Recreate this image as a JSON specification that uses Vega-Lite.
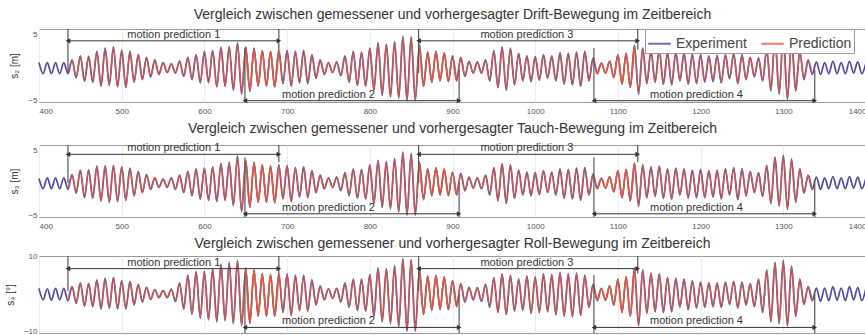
{
  "$schema": "https://vega.github.io/schema/vega-lite/v6.json",
  "background": "white",
  "padding": {"left": 4, "top": 7, "right": 0, "bottom": 0},
  "config": {
    "font": "Liberation Sans",
    "view": {"stroke": "#9a9a9a", "strokeWidth": 1},
    "axis": {"labelFontSize": 8, "labelColor": "#555", "ticks": false, "domain": false, "gridColor": "#ebebeb", "titleFontSize": 10, "titleFontWeight": "normal", "titleColor": "#333", "format": "d"},
    "axisX": {"grid": true, "labelPadding": 5},
    "axisY": {"grid": false, "labelPadding": 2, "titlePadding": 8},
    "title": {"fontSize": 14, "fontWeight": "normal", "color": "#333", "offset": 6},
    "concat": {"spacing": 5}
  },
  "datasets": {
    "win": [
      {"w": 1, "t0": 435, "t1": 690, "tm": 563, "pos": "top", "label": "motion prediction 1"},
      {"w": 2, "t0": 649, "t1": 908, "tm": 750, "pos": "bottom", "label": "motion prediction 2"},
      {"w": 3, "t0": 859, "t1": 1124, "tm": 990, "pos": "top", "label": "motion prediction 3"},
      {"w": 4, "t0": 1071, "t1": 1338, "tm": 1195, "pos": "bottom", "label": "motion prediction 4"}
    ],
    "ts": [
      {"t":400,"a":0.8,"c":0.7,"e":1.5},
      {"t":405,"a":-0.9,"c":-0.9,"e":-1.6},
      {"t":410,"a":0.8,"c":0.8,"e":1.4},
      {"t":415,"a":-0.9,"c":-0.9,"e":-1.7},
      {"t":420,"a":0.8,"c":0.8,"e":1.5},
      {"t":425,"a":-0.9,"c":-0.9,"e":-1.6},
      {"t":430,"a":0.8,"c":0.8,"e":1.5},
      {"t":435,"a":-0.9,"b":-0.8,"c":-1.0,"d":-0.9,"e":-1.8,"f":-1.6},
      {"t":440,"a":1.2,"b":1.1,"c":1.3,"d":1.2,"e":2.0,"f":1.9},
      {"t":445,"a":-1.5,"b":-1.4,"c":-1.6,"d":-1.5,"e":-2.5,"f":-2.3},
      {"t":450,"a":1.8,"b":1.7,"c":2.0,"d":1.9,"e":3.0,"f":2.8},
      {"t":455,"a":-2.0,"b":-2.1,"c":-2.3,"d":-2.2,"e":-3.2,"f":-3.3},
      {"t":460,"a":1.7,"b":1.8,"c":2.0,"d":2.1,"e":2.8,"f":2.9},
      {"t":465,"a":-2.2,"b":-2.0,"c":-2.4,"d":-2.3,"e":-3.4,"f":-3.2},
      {"t":470,"a":2.5,"b":2.4,"c":2.6,"d":2.5,"e":3.8,"f":3.6},
      {"t":475,"a":-2.8,"b":-2.6,"c":-2.8,"d":-2.7,"e":-4.0,"f":-3.8},
      {"t":480,"a":3.0,"b":2.9,"c":2.6,"d":2.7,"e":4.2,"f":4.0},
      {"t":485,"a":-2.6,"b":-2.7,"c":-3.0,"d":-2.8,"e":-3.8,"f":-3.9},
      {"t":490,"a":3.2,"b":3.0,"c":2.7,"d":2.6,"e":4.4,"f":4.2},
      {"t":495,"a":-2.9,"b":-2.8,"c":-2.9,"d":-2.8,"e":-4.0,"f":-3.9},
      {"t":500,"a":2.7,"b":2.6,"c":2.5,"d":2.4,"e":3.6,"f":3.5},
      {"t":505,"a":-3.0,"b":-2.9,"c":-2.7,"d":-2.6,"e":-4.0,"f":-3.8},
      {"t":510,"a":2.5,"b":2.4,"c":2.3,"d":2.2,"e":3.4,"f":3.3},
      {"t":515,"a":-2.2,"b":-2.1,"c":-2.0,"d":-2.0,"e":-3.0,"f":-2.9},
      {"t":520,"a":2.0,"b":1.9,"c":1.8,"d":1.7,"e":2.6,"f":2.5},
      {"t":525,"a":-1.8,"b":-1.7,"c":-1.5,"d":-1.5,"e":-2.2,"f":-2.1},
      {"t":530,"a":1.6,"b":1.5,"c":1.3,"d":1.3,"e":1.8,"f":1.7},
      {"t":535,"a":-1.4,"b":-1.3,"c":-1.0,"d":-1.0,"e":-1.5,"f":-1.4},
      {"t":540,"a":1.2,"b":1.1,"c":0.8,"d":0.8,"e":1.2,"f":1.2},
      {"t":545,"a":-1.0,"b":-0.9,"c":-0.7,"d":-0.7,"e":-1.0,"f":-1.0},
      {"t":550,"a":0.8,"b":0.8,"c":0.6,"d":0.6,"e":0.9,"f":0.9},
      {"t":555,"a":-0.7,"b":-0.7,"c":-0.7,"d":-0.6,"e":-1.0,"f":-0.9},
      {"t":560,"a":0.6,"b":0.6,"c":0.8,"d":0.7,"e":1.3,"f":1.2},
      {"t":565,"a":-0.8,"b":-0.7,"c":-1.0,"d":-0.9,"e":-2.0,"f":-1.8},
      {"t":570,"a":1.0,"b":0.9,"c":1.2,"d":1.1,"e":3.0,"f":2.8},
      {"t":575,"a":-1.3,"b":-1.2,"c":-1.5,"d":-1.4,"e":-4.0,"f":-3.8},
      {"t":580,"a":1.6,"b":1.5,"c":1.8,"d":1.7,"e":5.0,"f":4.8},
      {"t":585,"a":-1.8,"b":-1.7,"c":-2.0,"d":-1.9,"e":-5.5,"f":-5.2},
      {"t":590,"a":2.0,"b":1.9,"c":2.2,"d":2.1,"e":6.0,"f":5.8},
      {"t":595,"a":-2.3,"b":-2.2,"c":-2.5,"d":-2.4,"e":-6.5,"f":-6.2},
      {"t":600,"a":2.5,"b":2.4,"c":2.3,"d":2.2,"e":6.0,"f":5.9},
      {"t":605,"a":-2.2,"b":-2.3,"c":-2.7,"d":-2.6,"e":-7.0,"f":-6.8},
      {"t":610,"a":2.6,"b":2.5,"c":2.5,"d":2.4,"e":6.8,"f":6.6},
      {"t":615,"a":-2.9,"b":-2.8,"c":-2.9,"d":-2.8,"e":-7.5,"f":-7.2},
      {"t":620,"a":3.1,"b":3.0,"c":3.0,"d":2.9,"e":8.0,"f":7.8},
      {"t":625,"a":-2.8,"b":-2.7,"c":-2.7,"d":-2.6,"e":-7.2,"f":-7.0},
      {"t":630,"a":3.2,"b":3.1,"c":3.2,"d":3.0,"e":8.5,"f":8.2},
      {"t":635,"a":-3.4,"b":-3.3,"c":-3.5,"d":-3.4,"e":-8.0,"f":-7.8},
      {"t":640,"a":3.8,"b":3.6,"c":4.2,"d":4.0,"e":9.0,"f":8.7},
      {"t":645,"a":-4.0,"b":-3.8,"c":-4.5,"d":-4.3,"e":-8.5,"f":-8.2},
      {"t":650,"a":3.2,"b":3.1,"c":3.5,"d":3.4,"e":7.0,"f":6.8},
      {"t":655,"a":-3.6,"b":-3.4,"c":-3.8,"d":-3.6,"e":-8.0,"f":-7.7},
      {"t":660,"a":3.0,"b":2.9,"c":3.2,"d":3.1,"e":6.5,"f":6.3},
      {"t":665,"a":-2.8,"b":-2.7,"c":-3.0,"d":-2.9,"e":-6.0,"f":-5.8},
      {"t":670,"a":2.6,"b":2.5,"c":2.8,"d":2.7,"e":5.5,"f":5.3},
      {"t":675,"a":-2.8,"b":-2.7,"c":-3.0,"d":-2.9,"e":-6.0,"f":-5.8},
      {"t":680,"a":2.5,"b":2.4,"c":2.6,"d":2.5,"e":5.2,"f":5.0},
      {"t":685,"a":-2.9,"b":-2.8,"c":-3.1,"d":-3.0,"e":-6.0,"f":-5.9},
      {"t":690,"a":2.7,"b":2.6,"c":2.8,"d":2.7,"e":5.5,"f":5.3},
      {"t":695,"a":-2.4,"b":-2.3,"c":-2.5,"d":-2.4,"e":-5.0,"f":-4.8},
      {"t":700,"a":2.6,"b":2.5,"c":2.7,"d":2.6,"e":5.4,"f":5.2},
      {"t":705,"a":-2.8,"b":-2.7,"c":-2.9,"d":-2.8,"e":-5.8,"f":-5.6},
      {"t":710,"a":2.5,"b":2.4,"c":2.4,"d":2.3,"e":5.0,"f":4.9},
      {"t":715,"a":-2.3,"b":-2.2,"c":-2.2,"d":-2.1,"e":-4.5,"f":-4.4},
      {"t":720,"a":2.6,"b":2.5,"c":2.5,"d":2.4,"e":5.0,"f":4.8},
      {"t":725,"a":-2.4,"b":-2.3,"c":-2.3,"d":-2.2,"e":-4.6,"f":-4.5},
      {"t":730,"a":2.0,"b":1.9,"c":1.9,"d":1.8,"e":3.8,"f":3.7},
      {"t":735,"a":-1.6,"b":-1.5,"c":-1.5,"d":-1.4,"e":-3.0,"f":-2.9},
      {"t":740,"a":1.2,"b":1.1,"c":1.2,"d":1.1,"e":2.2,"f":2.1},
      {"t":745,"a":-1.0,"b":-0.9,"c":-0.9,"d":-0.9,"e":-1.6,"f":-1.5},
      {"t":750,"a":0.8,"b":0.8,"c":0.8,"d":0.8,"e":1.4,"f":1.3},
      {"t":755,"a":-0.7,"b":-0.7,"c":-0.7,"d":-0.7,"e":-1.2,"f":-1.2},
      {"t":760,"a":0.9,"b":0.8,"c":0.9,"d":0.8,"e":1.5,"f":1.4},
      {"t":765,"a":-1.2,"b":-1.1,"c":-1.2,"d":-1.1,"e":-2.2,"f":-2.0},
      {"t":770,"a":1.8,"b":1.7,"c":1.6,"d":1.5,"e":3.0,"f":2.9},
      {"t":775,"a":-2.2,"b":-2.1,"c":-2.0,"d":-1.9,"e":-3.6,"f":-3.5},
      {"t":780,"a":2.5,"b":2.4,"c":2.2,"d":2.1,"e":4.0,"f":3.9},
      {"t":785,"a":-2.7,"b":-2.6,"c":-2.4,"d":-2.3,"e":-4.4,"f":-4.2},
      {"t":790,"a":2.4,"b":2.3,"c":2.1,"d":2.0,"e":4.0,"f":3.9},
      {"t":795,"a":-2.8,"b":-2.7,"c":-2.5,"d":-2.4,"e":-4.6,"f":-4.4},
      {"t":800,"a":3.0,"b":2.9,"c":2.8,"d":2.7,"e":5.2,"f":5.0},
      {"t":805,"a":-3.4,"b":-3.2,"c":-3.2,"d":-3.1,"e":-6.0,"f":-5.8},
      {"t":810,"a":3.8,"b":3.6,"c":3.5,"d":3.4,"e":7.0,"f":6.8},
      {"t":815,"a":-4.2,"b":-4.0,"c":-3.8,"d":-3.6,"e":-7.5,"f":-7.2},
      {"t":820,"a":3.6,"b":3.5,"c":3.3,"d":3.2,"e":6.8,"f":6.6},
      {"t":825,"a":-4.4,"b":-4.2,"c":-4.0,"d":-3.8,"e":-8.0,"f":-7.7},
      {"t":830,"a":4.0,"b":3.8,"c":3.8,"d":3.6,"e":7.6,"f":7.3},
      {"t":835,"a":-4.6,"b":-4.4,"c":-4.5,"d":-4.3,"e":-8.8,"f":-8.5},
      {"t":840,"a":4.8,"b":4.6,"c":4.8,"d":4.6,"e":9.5,"f":9.2},
      {"t":845,"a":-5.0,"b":-4.8,"c":-5.0,"d":-4.8,"e":-10.0,"f":-9.6},
      {"t":850,"a":4.7,"b":4.5,"c":4.6,"d":4.4,"e":9.2,"f":8.9},
      {"t":855,"a":-5.0,"b":-4.8,"c":-5.0,"d":-4.8,"e":-10.0,"f":-9.7},
      {"t":860,"a":3.5,"b":3.4,"c":3.2,"d":3.1,"e":6.5,"f":6.3},
      {"t":865,"a":-2.8,"b":-2.7,"c":-2.6,"d":-2.5,"e":-5.5,"f":-5.3},
      {"t":870,"a":2.4,"b":2.3,"c":2.2,"d":2.1,"e":4.8,"f":4.6},
      {"t":875,"a":-2.2,"b":-2.1,"c":-2.0,"d":-1.9,"e":-4.4,"f":-4.2},
      {"t":880,"a":2.5,"b":2.4,"c":2.4,"d":2.3,"e":5.0,"f":4.8},
      {"t":885,"a":-2.0,"b":-1.9,"c":-1.9,"d":-1.8,"e":-4.2,"f":-4.0},
      {"t":890,"a":2.3,"b":2.2,"c":2.2,"d":2.1,"e":4.6,"f":4.4},
      {"t":895,"a":-2.1,"b":-2.0,"c":-2.0,"d":-1.9,"e":-4.2,"f":-4.1},
      {"t":900,"a":1.8,"b":1.7,"c":1.7,"d":1.6,"e":3.6,"f":3.5},
      {"t":905,"a":-2.0,"b":-1.9,"c":-1.9,"d":-1.8,"e":-3.4,"f":-3.3},
      {"t":910,"a":1.6,"b":1.5,"c":1.5,"d":1.4,"e":2.8,"f":2.7},
      {"t":915,"a":-1.3,"b":-1.2,"c":-1.2,"d":-1.2,"e":-2.2,"f":-2.1},
      {"t":920,"a":1.0,"b":1.0,"c":0.9,"d":0.9,"e":1.8,"f":1.7},
      {"t":925,"a":-0.8,"b":-0.8,"c":-0.8,"d":-0.8,"e":-1.6,"f":-1.5},
      {"t":930,"a":0.9,"b":0.8,"c":0.8,"d":0.8,"e":1.7,"f":1.6},
      {"t":935,"a":-0.8,"b":-0.8,"c":-0.9,"d":-0.8,"e":-2.0,"f":-1.9},
      {"t":940,"a":1.2,"b":1.1,"c":1.2,"d":1.1,"e":2.6,"f":2.5},
      {"t":945,"a":-2.0,"b":-1.9,"c":-1.9,"d":-1.8,"e":-3.6,"f":-3.5},
      {"t":950,"a":2.6,"b":2.5,"c":2.4,"d":2.3,"e":4.4,"f":4.2},
      {"t":955,"a":-3.0,"b":-2.9,"c":-2.8,"d":-2.7,"e":-5.0,"f":-4.8},
      {"t":960,"a":3.2,"b":3.0,"c":3.0,"d":2.9,"e":5.4,"f":5.2},
      {"t":965,"a":-3.4,"b":-3.2,"c":-3.2,"d":-3.1,"e":-5.6,"f":-5.4},
      {"t":970,"a":3.0,"b":2.9,"c":2.8,"d":2.7,"e":5.0,"f":4.9},
      {"t":975,"a":-2.6,"b":-2.5,"c":-2.4,"d":-2.3,"e":-4.6,"f":-4.5},
      {"t":980,"a":2.2,"b":2.1,"c":2.0,"d":1.9,"e":4.0,"f":3.9},
      {"t":985,"a":-2.0,"b":-1.9,"c":-1.9,"d":-1.8,"e":-4.4,"f":-4.2},
      {"t":990,"a":1.8,"b":1.7,"c":1.7,"d":1.6,"e":4.8,"f":4.6},
      {"t":995,"a":-2.1,"b":-2.0,"c":-2.0,"d":-1.9,"e":-5.2,"f":-5.0},
      {"t":1000,"a":1.7,"b":1.6,"c":1.6,"d":1.5,"e":4.6,"f":4.4},
      {"t":1005,"a":-1.9,"b":-1.8,"c":-1.8,"d":-1.7,"e":-5.0,"f":-4.8},
      {"t":1010,"a":2.0,"b":1.9,"c":1.9,"d":1.8,"e":5.4,"f":5.2},
      {"t":1015,"a":-1.6,"b":-1.5,"c":-1.5,"d":-1.4,"e":-4.8,"f":-4.6},
      {"t":1020,"a":1.8,"b":1.7,"c":1.7,"d":1.6,"e":5.2,"f":5.0},
      {"t":1025,"a":-2.0,"b":-1.9,"c":-1.9,"d":-1.8,"e":-5.6,"f":-5.4},
      {"t":1030,"a":2.3,"b":2.2,"c":2.2,"d":2.1,"e":5.8,"f":5.6},
      {"t":1035,"a":-2.5,"b":-2.4,"c":-2.4,"d":-2.3,"e":-6.0,"f":-5.8},
      {"t":1040,"a":2.2,"b":2.1,"c":2.1,"d":2.0,"e":5.4,"f":5.2},
      {"t":1045,"a":-2.6,"b":-2.5,"c":-2.5,"d":-2.4,"e":-6.2,"f":-6.0},
      {"t":1050,"a":2.4,"b":2.3,"c":2.3,"d":2.2,"e":5.6,"f":5.4},
      {"t":1055,"a":-2.8,"b":-2.7,"c":-2.7,"d":-2.6,"e":-5.8,"f":-5.6},
      {"t":1060,"a":2.5,"b":2.4,"c":2.4,"d":2.3,"e":5.0,"f":4.9},
      {"t":1065,"a":-2.0,"b":-1.9,"c":-1.9,"d":-1.8,"e":-3.6,"f":-3.5},
      {"t":1070,"a":1.5,"b":1.4,"c":1.4,"d":1.3,"e":2.6,"f":2.5},
      {"t":1075,"a":-0.9,"b":-0.9,"c":-0.9,"d":-0.9,"e":-1.8,"f":-1.7},
      {"t":1080,"a":0.7,"b":0.7,"c":0.7,"d":0.7,"e":1.5,"f":1.4},
      {"t":1085,"a":-0.8,"b":-0.8,"c":-0.8,"d":-0.8,"e":-1.7,"f":-1.6},
      {"t":1090,"a":1.0,"b":0.9,"c":1.0,"d":0.9,"e":2.2,"f":2.1},
      {"t":1095,"a":-1.5,"b":-1.4,"c":-1.4,"d":-1.3,"e":-3.0,"f":-2.9},
      {"t":1100,"a":2.0,"b":1.9,"c":1.9,"d":1.8,"e":4.0,"f":3.9},
      {"t":1105,"a":-2.5,"b":-2.4,"c":-2.3,"d":-2.2,"e":-5.0,"f":-4.8},
      {"t":1110,"a":2.2,"b":2.1,"c":2.1,"d":2.0,"e":4.6,"f":4.5},
      {"t":1115,"a":-3.0,"b":-2.9,"c":-2.8,"d":-2.7,"e":-6.0,"f":-5.8},
      {"t":1120,"a":3.4,"b":3.2,"c":3.1,"d":3.0,"e":7.0,"f":6.8},
      {"t":1125,"a":-4.0,"b":-3.8,"c":-3.6,"d":-3.4,"e":-8.5,"f":-8.2},
      {"t":1130,"a":3.0,"b":2.9,"c":2.8,"d":2.7,"e":6.5,"f":6.3},
      {"t":1135,"a":-2.4,"b":-2.3,"c":-2.3,"d":-2.2,"e":-5.2,"f":-5.0},
      {"t":1140,"a":2.6,"b":2.5,"c":2.5,"d":2.4,"e":5.6,"f":5.4},
      {"t":1145,"a":-2.2,"b":-2.1,"c":-2.1,"d":-2.0,"e":-4.8,"f":-4.6},
      {"t":1150,"a":2.8,"b":2.7,"c":2.6,"d":2.5,"e":5.4,"f":5.2},
      {"t":1155,"a":-2.5,"b":-2.4,"c":-2.4,"d":-2.3,"e":-5.0,"f":-4.8},
      {"t":1160,"a":2.3,"b":2.2,"c":2.2,"d":2.1,"e":4.4,"f":4.3},
      {"t":1165,"a":-2.6,"b":-2.5,"c":-2.5,"d":-2.4,"e":-4.8,"f":-4.6},
      {"t":1170,"a":2.4,"b":2.3,"c":2.3,"d":2.2,"e":4.2,"f":4.1},
      {"t":1175,"a":-2.0,"b":-1.9,"c":-1.9,"d":-1.8,"e":-3.6,"f":-3.5},
      {"t":1180,"a":2.3,"b":2.2,"c":2.2,"d":2.1,"e":4.0,"f":3.9},
      {"t":1185,"a":-2.5,"b":-2.4,"c":-2.4,"d":-2.3,"e":-4.2,"f":-4.1},
      {"t":1190,"a":2.1,"b":2.0,"c":2.0,"d":1.9,"e":3.6,"f":3.5},
      {"t":1195,"a":-2.4,"b":-2.3,"c":-2.3,"d":-2.2,"e":-3.8,"f":-3.7},
      {"t":1200,"a":2.0,"b":1.9,"c":2.1,"d":2.0,"e":3.2,"f":3.1},
      {"t":1205,"a":-2.2,"b":-2.1,"c":-2.3,"d":-2.2,"e":-3.6,"f":-3.5},
      {"t":1210,"a":1.8,"b":1.7,"c":1.9,"d":1.8,"e":3.0,"f":2.9},
      {"t":1215,"a":-2.1,"b":-2.0,"c":-2.2,"d":-2.1,"e":-3.4,"f":-3.3},
      {"t":1220,"a":1.9,"b":1.8,"c":2.0,"d":1.9,"e":3.0,"f":2.9},
      {"t":1225,"a":-2.3,"b":-2.2,"c":-2.5,"d":-2.4,"e":-3.6,"f":-3.5},
      {"t":1230,"a":2.0,"b":1.9,"c":2.2,"d":2.1,"e":3.2,"f":3.1},
      {"t":1235,"a":-1.7,"b":-1.6,"c":-1.9,"d":-1.8,"e":-2.8,"f":-2.7},
      {"t":1240,"a":2.2,"b":2.1,"c":2.4,"d":2.3,"e":3.4,"f":3.3},
      {"t":1245,"a":-2.4,"b":-2.3,"c":-2.6,"d":-2.5,"e":-3.8,"f":-3.7},
      {"t":1250,"a":2.0,"b":1.9,"c":2.2,"d":2.1,"e":3.2,"f":3.1},
      {"t":1255,"a":-1.8,"b":-1.7,"c":-2.0,"d":-1.9,"e":-3.0,"f":-2.9},
      {"t":1260,"a":1.6,"b":1.5,"c":1.8,"d":1.7,"e":2.8,"f":2.7},
      {"t":1265,"a":-1.4,"b":-1.3,"c":-1.5,"d":-1.4,"e":-3.4,"f":-3.3},
      {"t":1270,"a":1.5,"b":1.4,"c":1.6,"d":1.5,"e":4.0,"f":3.9},
      {"t":1275,"a":-2.0,"b":-1.9,"c":-2.1,"d":-2.0,"e":-5.0,"f":-4.8},
      {"t":1280,"a":2.8,"b":2.7,"c":2.7,"d":2.6,"e":6.5,"f":6.3},
      {"t":1285,"a":-3.5,"b":-3.3,"c":-3.2,"d":-3.1,"e":-7.5,"f":-7.2},
      {"t":1290,"a":4.5,"b":4.3,"c":4.0,"d":3.8,"e":8.5,"f":8.2},
      {"t":1295,"a":-4.0,"b":-3.8,"c":-3.6,"d":-3.5,"e":-8.0,"f":-7.7},
      {"t":1300,"a":5.0,"b":4.7,"c":4.3,"d":4.1,"e":9.0,"f":8.6},
      {"t":1305,"a":-4.8,"b":-4.6,"c":-4.1,"d":-3.9,"e":-8.6,"f":-8.3},
      {"t":1310,"a":4.2,"b":4.0,"c":3.7,"d":3.5,"e":7.5,"f":7.2},
      {"t":1315,"a":-3.5,"b":-3.3,"c":-3.0,"d":-2.9,"e":-6.0,"f":-5.8},
      {"t":1320,"a":2.5,"b":2.4,"c":2.2,"d":2.1,"e":4.0,"f":3.9},
      {"t":1325,"a":-1.8,"b":-1.7,"c":-1.6,"d":-1.5,"e":-2.8,"f":-2.7},
      {"t":1330,"a":1.2,"b":1.1,"c":1.2,"d":1.1,"e":2.0,"f":1.9},
      {"t":1335,"a":-1.0,"b":-1.0,"c":-1.0,"d":-1.0,"e":-1.8,"f":-1.7},
      {"t":1340,"a":0.9,"c":0.9,"e":1.6},
      {"t":1345,"a":-1.0,"c":-1.0,"e":-2.0},
      {"t":1350,"a":0.8,"c":0.8,"e":1.6},
      {"t":1355,"a":-0.9,"c":-0.9,"e":-1.8},
      {"t":1360,"a":1.0,"c":1.0,"e":2.0},
      {"t":1365,"a":-0.9,"c":-0.9,"e":-1.7},
      {"t":1370,"a":0.8,"c":0.8,"e":1.6},
      {"t":1375,"a":-0.9,"c":-0.9,"e":-1.8},
      {"t":1380,"a":1.0,"c":1.0,"e":2.0},
      {"t":1385,"a":-0.8,"c":-0.8,"e":-1.6},
      {"t":1390,"a":0.9,"c":0.9,"e":1.7},
      {"t":1395,"a":-0.9,"c":-0.9,"e":-1.8},
      {"t":1400,"a":0.8,"c":0.8,"e":1.6}
    ]
  },
  "resolve": {"scale": {"x": "independent", "y": "independent", "color": "independent"}, "legend": {"color": "independent"}},
  "vconcat": [
    {
      "title": "Vergleich zwischen gemessener und vorhergesagter Drift-Bewegung im Zeitbereich",
      "width": 827, "height": 73,
      "layer": [
        {"data": {"name": "ts"}, "mark": {"type": "line", "interpolate": "monotone", "strokeWidth": 1.7},
         "encoding": {
           "x": {"field": "t", "type": "quantitative", "scale": {"domain": [400, 1400], "nice": false}, "axis": {"values": [400,500,600,700,800,900,1000,1100,1200,1300,1400], "title": null}},
           "y": {"field": "a", "type": "quantitative", "scale": {"domain": [-5.2, 5.9], "nice": false, "zero": false}, "axis": {"values": [-5, 0, 5], "title": "s₂ [m]"}},
           "color": {"datum": "Experiment", "type": "nominal", "scale": {"domain": ["Experiment", "Prediction"], "range": ["#4b4b9e", "#e65a3a"]},
             "legend": {"title": null, "orient": "none", "legendX": 606, "legendY": 0, "direction": "horizontal", "fillColor": "white", "strokeColor": "#9a9a9a", "padding": 2, "labelFontSize": 14, "labelColor": "#444", "symbolType": "stroke", "symbolSize": 500, "symbolStrokeWidth": 2, "columnPadding": 10}}
         }},
        {"data": {"name": "ts"}, "transform": [{"filter": {"field": "t", "range": [435, 690]}}], "mark": {"type": "line", "interpolate": "monotone", "strokeWidth": 1.5, "opacity": 0.8},
         "encoding": {"x": {"field": "t", "type": "quantitative"}, "y": {"field": "b", "type": "quantitative"}, "color": {"datum": "Prediction", "type": "nominal"}}},
        {"data": {"name": "ts"}, "transform": [{"filter": {"field": "t", "range": [649, 908]}}], "mark": {"type": "line", "interpolate": "monotone", "strokeWidth": 1.5, "opacity": 0.8},
         "encoding": {"x": {"field": "t", "type": "quantitative"}, "y": {"field": "b", "type": "quantitative"}, "color": {"datum": "Prediction", "type": "nominal"}}},
        {"data": {"name": "ts"}, "transform": [{"filter": {"field": "t", "range": [859, 1124]}}], "mark": {"type": "line", "interpolate": "monotone", "strokeWidth": 1.5, "opacity": 0.8},
         "encoding": {"x": {"field": "t", "type": "quantitative"}, "y": {"field": "b", "type": "quantitative"}, "color": {"datum": "Prediction", "type": "nominal"}}},
        {"data": {"name": "ts"}, "transform": [{"filter": {"field": "t", "range": [1071, 1338]}}], "mark": {"type": "line", "interpolate": "monotone", "strokeWidth": 1.5, "opacity": 0.8},
         "encoding": {"x": {"field": "t", "type": "quantitative"}, "y": {"field": "b", "type": "quantitative"}, "color": {"datum": "Prediction", "type": "nominal"}}},
        {"data": {"name": "win"}, "transform": [{"filter": "datum.pos == 'top'"}], "mark": {"type": "rule", "color": "#555", "strokeWidth": 1.2},
         "encoding": {"x": {"field": "t0", "type": "quantitative"}, "y": {"datum": 5.9}, "y2": {"datum": -0.8}}},
        {"data": {"name": "win"}, "transform": [{"filter": "datum.pos == 'top'"}], "mark": {"type": "rule", "color": "#555", "strokeWidth": 1.2},
         "encoding": {"x": {"field": "t1", "type": "quantitative"}, "y": {"datum": 5.9}, "y2": {"datum": 2.8}}},
        {"data": {"name": "win"}, "transform": [{"filter": "datum.pos == 'bottom'"}], "mark": {"type": "rule", "color": "#555", "strokeWidth": 1.2},
         "encoding": {"x": {"field": "t0", "type": "quantitative"}, "y": {"datum": 3.0}, "y2": {"datum": -5.2}}},
        {"data": {"name": "win"}, "transform": [{"filter": "datum.pos == 'bottom'"}], "mark": {"type": "rule", "color": "#555", "strokeWidth": 1.2},
         "encoding": {"x": {"field": "t1", "type": "quantitative"}, "y": {"datum": -0.3}, "y2": {"datum": -5.2}}},
        {"data": {"name": "win"}, "transform": [{"filter": "datum.pos == 'top'"}], "mark": {"type": "rule", "color": "#333", "strokeWidth": 1},
         "encoding": {"x": {"field": "t0", "type": "quantitative"}, "x2": {"field": "t1"}, "y": {"datum": 4.1}}},
        {"data": {"name": "win"}, "transform": [{"filter": "datum.pos == 'bottom'"}], "mark": {"type": "rule", "color": "#333", "strokeWidth": 1},
         "encoding": {"x": {"field": "t0", "type": "quantitative"}, "x2": {"field": "t1"}, "y": {"datum": -5.0}}},
        {"data": {"name": "win"}, "transform": [{"filter": "datum.pos == 'top'"}], "mark": {"type": "point", "shape": "triangle-left", "filled": true, "size": 28, "color": "#333", "opacity": 1},
         "encoding": {"x": {"field": "t0", "type": "quantitative"}, "y": {"datum": 4.1}}},
        {"data": {"name": "win"}, "transform": [{"filter": "datum.pos == 'top'"}], "mark": {"type": "point", "shape": "triangle-right", "filled": true, "size": 28, "color": "#333", "opacity": 1},
         "encoding": {"x": {"field": "t1", "type": "quantitative"}, "y": {"datum": 4.1}}},
        {"data": {"name": "win"}, "transform": [{"filter": "datum.pos == 'bottom'"}], "mark": {"type": "point", "shape": "triangle-left", "filled": true, "size": 28, "color": "#333", "opacity": 1},
         "encoding": {"x": {"field": "t0", "type": "quantitative"}, "y": {"datum": -5.0}}},
        {"data": {"name": "win"}, "transform": [{"filter": "datum.pos == 'bottom'"}], "mark": {"type": "point", "shape": "triangle-right", "filled": true, "size": 28, "color": "#333", "opacity": 1},
         "encoding": {"x": {"field": "t1", "type": "quantitative"}, "y": {"datum": -5.0}}},
        {"data": {"name": "win"}, "transform": [{"filter": "datum.pos == 'top'"}], "mark": {"type": "text", "fontSize": 11, "color": "#333", "baseline": "bottom", "dy": -1},
         "encoding": {"x": {"field": "tm", "type": "quantitative"}, "y": {"datum": 4.1}, "text": {"field": "label"}}},
        {"data": {"name": "win"}, "transform": [{"filter": "datum.pos == 'bottom'"}], "mark": {"type": "text", "fontSize": 11, "color": "#333", "baseline": "bottom", "dy": -1},
         "encoding": {"x": {"field": "tm", "type": "quantitative"}, "y": {"datum": -5.0}, "text": {"field": "label"}}}
      ]
    },
    {
      "title": "Vergleich zwischen gemessener und vorhergesagter Tauch-Bewegung im Zeitbereich",
      "width": 827, "height": 72,
      "layer": [
        {"data": {"name": "ts"}, "mark": {"type": "line", "interpolate": "monotone", "strokeWidth": 1.7},
         "encoding": {
           "x": {"field": "t", "type": "quantitative", "scale": {"domain": [400, 1400], "nice": false}, "axis": {"values": [400,500,600,700,800,900,1000,1100,1200,1300,1400], "title": null}},
           "y": {"field": "c", "type": "quantitative", "scale": {"domain": [-5.3, 5.9], "nice": false, "zero": false}, "axis": {"values": [-5, 0, 5], "title": "s₃ [m]"}},
           "color": {"datum": "Experiment", "type": "nominal", "scale": {"domain": ["Experiment", "Prediction"], "range": ["#4b4b9e", "#e65a3a"]}, "legend": null}
         }},
        {"data": {"name": "ts"}, "transform": [{"filter": {"field": "t", "range": [435, 690]}}], "mark": {"type": "line", "interpolate": "monotone", "strokeWidth": 1.5, "opacity": 0.8},
         "encoding": {"x": {"field": "t", "type": "quantitative"}, "y": {"field": "d", "type": "quantitative"}, "color": {"datum": "Prediction", "type": "nominal"}}},
        {"data": {"name": "ts"}, "transform": [{"filter": {"field": "t", "range": [649, 908]}}], "mark": {"type": "line", "interpolate": "monotone", "strokeWidth": 1.5, "opacity": 0.8},
         "encoding": {"x": {"field": "t", "type": "quantitative"}, "y": {"field": "d", "type": "quantitative"}, "color": {"datum": "Prediction", "type": "nominal"}}},
        {"data": {"name": "ts"}, "transform": [{"filter": {"field": "t", "range": [859, 1124]}}], "mark": {"type": "line", "interpolate": "monotone", "strokeWidth": 1.5, "opacity": 0.8},
         "encoding": {"x": {"field": "t", "type": "quantitative"}, "y": {"field": "d", "type": "quantitative"}, "color": {"datum": "Prediction", "type": "nominal"}}},
        {"data": {"name": "ts"}, "transform": [{"filter": {"field": "t", "range": [1071, 1338]}}], "mark": {"type": "line", "interpolate": "monotone", "strokeWidth": 1.5, "opacity": 0.8},
         "encoding": {"x": {"field": "t", "type": "quantitative"}, "y": {"field": "d", "type": "quantitative"}, "color": {"datum": "Prediction", "type": "nominal"}}},
        {"data": {"name": "win"}, "transform": [{"filter": "datum.pos == 'top'"}], "mark": {"type": "rule", "color": "#555", "strokeWidth": 1.2},
         "encoding": {"x": {"field": "t0", "type": "quantitative"}, "y": {"datum": 5.9}, "y2": {"datum": 0.0}}},
        {"data": {"name": "win"}, "transform": [{"filter": "datum.pos == 'top'"}], "mark": {"type": "rule", "color": "#555", "strokeWidth": 1.2},
         "encoding": {"x": {"field": "t1", "type": "quantitative"}, "y": {"datum": 5.9}, "y2": {"datum": 3.2}}},
        {"data": {"name": "win"}, "transform": [{"filter": "datum.pos == 'bottom'"}], "mark": {"type": "rule", "color": "#555", "strokeWidth": 1.2},
         "encoding": {"x": {"field": "t0", "type": "quantitative"}, "y": {"datum": 4.0}, "y2": {"datum": -5.3}}},
        {"data": {"name": "win"}, "transform": [{"filter": "datum.pos == 'bottom'"}], "mark": {"type": "rule", "color": "#555", "strokeWidth": 1.2},
         "encoding": {"x": {"field": "t1", "type": "quantitative"}, "y": {"datum": 0.0}, "y2": {"datum": -5.3}}},
        {"data": {"name": "win"}, "transform": [{"filter": "datum.pos == 'top'"}], "mark": {"type": "rule", "color": "#333", "strokeWidth": 1},
         "encoding": {"x": {"field": "t0", "type": "quantitative"}, "x2": {"field": "t1"}, "y": {"datum": 4.45}}},
        {"data": {"name": "win"}, "transform": [{"filter": "datum.pos == 'bottom'"}], "mark": {"type": "rule", "color": "#333", "strokeWidth": 1},
         "encoding": {"x": {"field": "t0", "type": "quantitative"}, "x2": {"field": "t1"}, "y": {"datum": -4.8}}},
        {"data": {"name": "win"}, "transform": [{"filter": "datum.pos == 'top'"}], "mark": {"type": "point", "shape": "triangle-left", "filled": true, "size": 28, "color": "#333", "opacity": 1},
         "encoding": {"x": {"field": "t0", "type": "quantitative"}, "y": {"datum": 4.45}}},
        {"data": {"name": "win"}, "transform": [{"filter": "datum.pos == 'top'"}], "mark": {"type": "point", "shape": "triangle-right", "filled": true, "size": 28, "color": "#333", "opacity": 1},
         "encoding": {"x": {"field": "t1", "type": "quantitative"}, "y": {"datum": 4.45}}},
        {"data": {"name": "win"}, "transform": [{"filter": "datum.pos == 'bottom'"}], "mark": {"type": "point", "shape": "triangle-left", "filled": true, "size": 28, "color": "#333", "opacity": 1},
         "encoding": {"x": {"field": "t0", "type": "quantitative"}, "y": {"datum": -4.8}}},
        {"data": {"name": "win"}, "transform": [{"filter": "datum.pos == 'bottom'"}], "mark": {"type": "point", "shape": "triangle-right", "filled": true, "size": 28, "color": "#333", "opacity": 1},
         "encoding": {"x": {"field": "t1", "type": "quantitative"}, "y": {"datum": -4.8}}},
        {"data": {"name": "win"}, "transform": [{"filter": "datum.pos == 'top'"}], "mark": {"type": "text", "fontSize": 11, "color": "#333", "baseline": "bottom", "dy": -1},
         "encoding": {"x": {"field": "tm", "type": "quantitative"}, "y": {"datum": 4.45}, "text": {"field": "label"}}},
        {"data": {"name": "win"}, "transform": [{"filter": "datum.pos == 'bottom'"}], "mark": {"type": "text", "fontSize": 11, "color": "#333", "baseline": "bottom", "dy": -1},
         "encoding": {"x": {"field": "tm", "type": "quantitative"}, "y": {"datum": -4.8}, "text": {"field": "label"}}}
      ]
    },
    {
      "title": {"text": "Vergleich zwischen gemessener und vorhergesagter Roll-Bewegung im Zeitbereich", "offset": 2},
      "width": 827, "height": 77,
      "layer": [
        {"data": {"name": "ts"}, "mark": {"type": "line", "interpolate": "monotone", "strokeWidth": 1.7},
         "encoding": {
           "x": {"field": "t", "type": "quantitative", "scale": {"domain": [400, 1400], "nice": false}, "axis": {"values": [400,500,600,700,800,900,1000,1100,1200,1300,1400], "title": null, "labels": false}},
           "y": {"field": "e", "type": "quantitative", "scale": {"domain": [-10.5, 10.2], "nice": false, "zero": false}, "axis": {"values": [-10, 0, 10], "title": "s₄ [°]"}},
           "color": {"datum": "Experiment", "type": "nominal", "scale": {"domain": ["Experiment", "Prediction"], "range": ["#4b4b9e", "#e65a3a"]}, "legend": null}
         }},
        {"data": {"name": "ts"}, "transform": [{"filter": {"field": "t", "range": [435, 690]}}], "mark": {"type": "line", "interpolate": "monotone", "strokeWidth": 1.5, "opacity": 0.8},
         "encoding": {"x": {"field": "t", "type": "quantitative"}, "y": {"field": "f", "type": "quantitative"}, "color": {"datum": "Prediction", "type": "nominal"}}},
        {"data": {"name": "ts"}, "transform": [{"filter": {"field": "t", "range": [649, 908]}}], "mark": {"type": "line", "interpolate": "monotone", "strokeWidth": 1.5, "opacity": 0.8},
         "encoding": {"x": {"field": "t", "type": "quantitative"}, "y": {"field": "f", "type": "quantitative"}, "color": {"datum": "Prediction", "type": "nominal"}}},
        {"data": {"name": "ts"}, "transform": [{"filter": {"field": "t", "range": [859, 1124]}}], "mark": {"type": "line", "interpolate": "monotone", "strokeWidth": 1.5, "opacity": 0.8},
         "encoding": {"x": {"field": "t", "type": "quantitative"}, "y": {"field": "f", "type": "quantitative"}, "color": {"datum": "Prediction", "type": "nominal"}}},
        {"data": {"name": "ts"}, "transform": [{"filter": {"field": "t", "range": [1071, 1338]}}], "mark": {"type": "line", "interpolate": "monotone", "strokeWidth": 1.5, "opacity": 0.8},
         "encoding": {"x": {"field": "t", "type": "quantitative"}, "y": {"field": "f", "type": "quantitative"}, "color": {"datum": "Prediction", "type": "nominal"}}},
        {"data": {"name": "win"}, "transform": [{"filter": "datum.pos == 'top'"}], "mark": {"type": "rule", "color": "#555", "strokeWidth": 1.2},
         "encoding": {"x": {"field": "t0", "type": "quantitative"}, "y": {"datum": 10.2}, "y2": {"datum": 0.8}}},
        {"data": {"name": "win"}, "transform": [{"filter": "datum.pos == 'top'"}], "mark": {"type": "rule", "color": "#555", "strokeWidth": 1.2},
         "encoding": {"x": {"field": "t1", "type": "quantitative"}, "y": {"datum": 10.2}, "y2": {"datum": 5.5}}},
        {"data": {"name": "win"}, "transform": [{"filter": "datum.pos == 'bottom'"}], "mark": {"type": "rule", "color": "#555", "strokeWidth": 1.2},
         "encoding": {"x": {"field": "t0", "type": "quantitative"}, "y": {"datum": 5.0}, "y2": {"datum": -10.5}}},
        {"data": {"name": "win"}, "transform": [{"filter": "datum.pos == 'bottom'"}], "mark": {"type": "rule", "color": "#555", "strokeWidth": 1.2},
         "encoding": {"x": {"field": "t1", "type": "quantitative"}, "y": {"datum": 0.0}, "y2": {"datum": -10.5}}},
        {"data": {"name": "win"}, "transform": [{"filter": "datum.pos == 'top'"}], "mark": {"type": "rule", "color": "#333", "strokeWidth": 1},
         "encoding": {"x": {"field": "t0", "type": "quantitative"}, "x2": {"field": "t1"}, "y": {"datum": 6.8}}},
        {"data": {"name": "win"}, "transform": [{"filter": "datum.pos == 'bottom'"}], "mark": {"type": "rule", "color": "#333", "strokeWidth": 1},
         "encoding": {"x": {"field": "t0", "type": "quantitative"}, "x2": {"field": "t1"}, "y": {"datum": -9.0}}},
        {"data": {"name": "win"}, "transform": [{"filter": "datum.pos == 'top'"}], "mark": {"type": "point", "shape": "triangle-left", "filled": true, "size": 28, "color": "#333", "opacity": 1},
         "encoding": {"x": {"field": "t0", "type": "quantitative"}, "y": {"datum": 6.8}}},
        {"data": {"name": "win"}, "transform": [{"filter": "datum.pos == 'top'"}], "mark": {"type": "point", "shape": "triangle-right", "filled": true, "size": 28, "color": "#333", "opacity": 1},
         "encoding": {"x": {"field": "t1", "type": "quantitative"}, "y": {"datum": 6.8}}},
        {"data": {"name": "win"}, "transform": [{"filter": "datum.pos == 'bottom'"}], "mark": {"type": "point", "shape": "triangle-left", "filled": true, "size": 28, "color": "#333", "opacity": 1},
         "encoding": {"x": {"field": "t0", "type": "quantitative"}, "y": {"datum": -9.0}}},
        {"data": {"name": "win"}, "transform": [{"filter": "datum.pos == 'bottom'"}], "mark": {"type": "point", "shape": "triangle-right", "filled": true, "size": 28, "color": "#333", "opacity": 1},
         "encoding": {"x": {"field": "t1", "type": "quantitative"}, "y": {"datum": -9.0}}},
        {"data": {"name": "win"}, "transform": [{"filter": "datum.pos == 'top'"}], "mark": {"type": "text", "fontSize": 11, "color": "#333", "baseline": "bottom", "dy": -1},
         "encoding": {"x": {"field": "tm", "type": "quantitative"}, "y": {"datum": 6.8}, "text": {"field": "label"}}},
        {"data": {"name": "win"}, "transform": [{"filter": "datum.pos == 'bottom'"}], "mark": {"type": "text", "fontSize": 11, "color": "#333", "baseline": "bottom", "dy": -1},
         "encoding": {"x": {"field": "tm", "type": "quantitative"}, "y": {"datum": -9.0}, "text": {"field": "label"}}}
      ]
    }
  ]
}
